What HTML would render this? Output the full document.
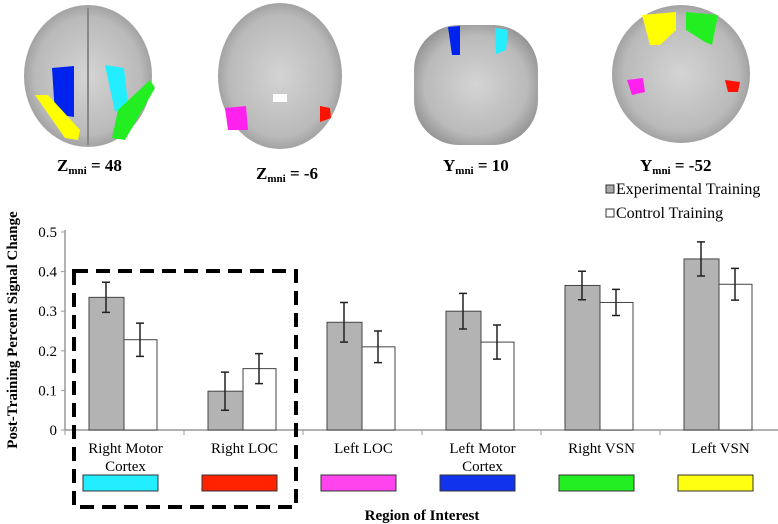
<!DOCTYPE html>
<html><head><meta charset="utf-8"><style>
body{margin:0;background:#fff;}
svg{display:block;font-family:"Liberation Serif",serif;}
</style></head><body>
<svg width="778" height="524" viewBox="0 0 778 524">
<defs>
<radialGradient id="bg1" cx="50%" cy="50%" r="55%"><stop offset="0" stop-color="#d4d4d4"/><stop offset="0.75" stop-color="#bababa"/><stop offset="1" stop-color="#959595"/></radialGradient>
</defs>
<g>
<ellipse cx="88" cy="76" rx="64" ry="71" fill="url(#bg1)"/>
<line x1="88" y1="8" x2="88" y2="145" stroke="#888" stroke-width="2"/>
<path d="M52 68 L74 66 L74 117 L55 114 Z" fill="#0022ee"/>
<path d="M105 65 L124 68 L128 105 L115 112 Z" fill="#22eeff"/>
<path d="M35 95 L48 95 L80 130 L78 140 L65 138 Z" fill="#ffff00"/>
<path d="M150 80 L155 88 L125 140 L112 138 L118 110 Z" fill="#22ee22"/>
</g>
<g>
<ellipse cx="280" cy="76" rx="62" ry="73" fill="url(#bg1)"/>
<rect x="273" y="94" width="14" height="8" fill="#fff"/>
<path d="M225 108 L246 106 L248 130 L228 130 Z" fill="#ff22ee"/>
<path d="M320 106 L330 108 L331 118 L320 122 Z" fill="#ff1100"/>
</g>
<g>
<rect x="414" y="25" width="124" height="120" rx="45" fill="url(#bg1)"/>
<path d="M448 27 L460 26 L460 55 L452 55 Z" fill="#0022ee"/>
<path d="M495 28 L508 30 L506 50 L496 54 Z" fill="#22eeff"/>
</g>
<g>
<ellipse cx="681" cy="74" rx="69" ry="69" fill="url(#bg1)"/>
<path d="M642 15 L676 12 L676 30 L660 45 L650 45 Z" fill="#ffff00"/>
<path d="M686 12 L718 15 L712 45 L705 42 L686 30 Z" fill="#22ee22"/>
<path d="M627 80 L643 78 L645 92 L632 95 Z" fill="#ff22ee"/>
<path d="M725 80 L740 82 L738 92 L728 92 Z" fill="#ff1100"/>
</g>
<g font-weight="bold" font-size="17">
<text x="57" y="171">Z<tspan font-size="11" dy="3">mni</tspan><tspan dy="-3"> = 48</tspan></text>
<text x="256" y="179">Z<tspan font-size="11" dy="3">mni</tspan><tspan dy="-3"> = -6</tspan></text>
<text x="443" y="171">Y<tspan font-size="11" dy="3">mni</tspan><tspan dy="-3"> = 10</tspan></text>
<text x="640" y="171">Y<tspan font-size="11" dy="3">mni</tspan><tspan dy="-3"> = -52</tspan></text>
</g>
<g font-size="16">
<rect x="606" y="185" width="8" height="8" fill="#aaa" stroke="#333"/>
<text x="616" y="194">Experimental Training</text>
<rect x="606" y="209" width="8" height="8" fill="#fff" stroke="#333"/>
<text x="616" y="218">Control Training</text>
</g>
<g id="chart"></g>
<text transform="translate(17,330) rotate(-90)" text-anchor="middle" font-weight="bold" font-size="15">Post-Training Percent Signal Change</text>
<text x="422" y="520" text-anchor="middle" font-weight="bold" font-size="15">Region of Interest</text>
<rect x="74" y="271" width="222" height="236" fill="none" stroke="#000" stroke-width="4" stroke-dasharray="14,8"/>
</svg>
<script>
const categories=[["Right Motor","Cortex"],["Right LOC"],["Left LOC"],["Left Motor","Cortex"],["Right VSN"],["Left VSN"]];
const swatchColors=["#22eeff","#ff2200","#ff44ee","#1133ee","#22ee22","#ffff11"];
const expValues=[0.335,0.098,0.272,0.300,0.365,0.432];
const expErrors=[0.038,0.048,0.050,0.045,0.036,0.043];
const ctrlValues=[0.228,0.155,0.210,0.222,0.322,0.368];
const ctrlErrors=[0.042,0.038,0.040,0.043,0.033,0.040];
const yTicks=[0,0.1,0.2,0.3,0.4,0.5];
const NS="http://www.w3.org/2000/svg";
const g=document.getElementById("chart");
const x0=65,catW=119,y0=430,pxPer=396;
const yS=v=>y0-v*pxPer;
const xC=i=>x0+i*catW;
function mk(t,a,p){const e=document.createElementNS(NS,t);for(const k in a)e.setAttribute(k,a[k]);(p||g).appendChild(e);return e;}
const yl=mk("line",{x1:x0,y1:yS(0.5)-2,x2:x0,y2:y0,stroke:"#999","stroke-width":1.5});


const xl=mk("line",{x1:x0,y1:y0,x2:778,y2:y0,stroke:"#999","stroke-width":1.5});


yTicks.forEach(v=>{
 const t=mk("text",{x:x0-8,y:yS(v)+5,"text-anchor":"end","font-size":15});
 t.textContent=String(v);
 
 
 const tk=mk("line",{x1:x0-4,y1:yS(v),x2:x0,y2:yS(v),stroke:"#999"});
 
 
});
for(let i=0;i<=categories.length;i++){
 const tk=mk("line",{x1:xC(i),y1:y0,x2:xC(i),y2:y0+5,stroke:"#999"});
 
 
}
function err(cx,v,e){
 const l=mk("path",{d:`M${cx} ${yS(v+e)}V${yS(v-e)}M${cx-4} ${yS(v+e)}H${cx+4}M${cx-4} ${yS(v-e)}H${cx+4}`,stroke:"#222","stroke-width":1.5,fill:"none"});
 
 
}
categories.forEach((c,i)=>{
 const bx=xC(i)+24;
 const b1=mk("rect",{x:bx,y:yS(expValues[i]),width:35,height:expValues[i]*pxPer,fill:"#b3b3b3",stroke:"#444","stroke-width":1});
 
 
 const b2=mk("rect",{x:bx+35,y:yS(ctrlValues[i]),width:33,height:ctrlValues[i]*pxPer,fill:"#fff",stroke:"#444","stroke-width":1});
 
 
 err(bx+17,expValues[i],expErrors[i]);
 err(bx+51,ctrlValues[i],ctrlErrors[i]);
 const cx=xC(i)+catW/2+1;
 c.forEach((ln,k)=>{
  const t=mk("text",{x:cx,y:453+k*18,"text-anchor":"middle","font-size":15});
  t.textContent=ln;
  
  
 });
 const s=mk("rect",{x:xC(i)+18,y:475,width:75,height:16,fill:swatchColors[i],stroke:"#333","stroke-width":1});
 
 
});
</script>
</body></html>
